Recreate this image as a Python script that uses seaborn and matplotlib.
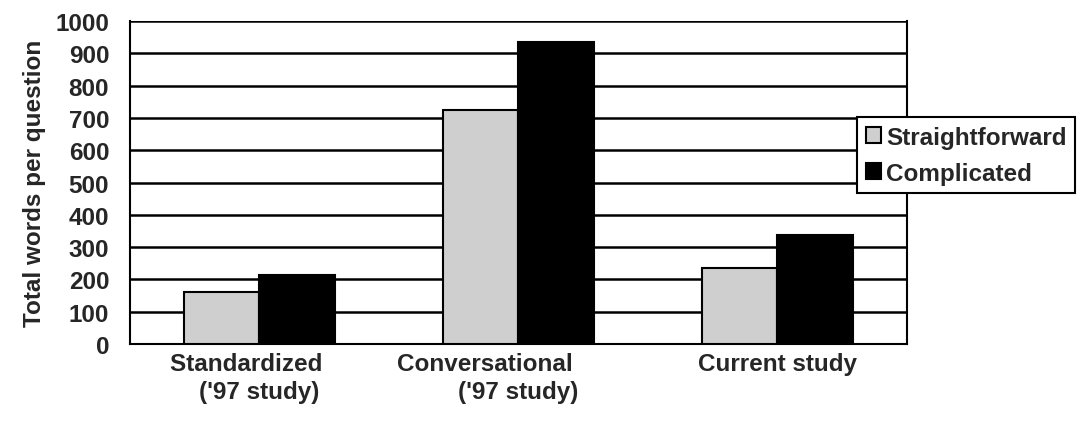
import matplotlib
matplotlib.use('Agg')
import matplotlib.pyplot as plt
import seaborn as sns
import pandas as pd

categories = ["Standardized\n('97 study)", "Conversational\n('97 study)", "Current study"]
series = ['Straightforward', 'Complicated']
straightforward = [160, 725, 235]
complicated = [215, 935, 338]
y_ticks = list(range(0, 1001, 100))

df = pd.DataFrame({
    'category': categories * 2,
    'type': [series[0]] * 3 + [series[1]] * 3,
    'words': straightforward + complicated,
})

sns.set_style('white')
plt.rcParams['font.family'] = ['Liberation Sans', 'DejaVu Sans']
plt.rcParams['font.weight'] = 'bold'
fs = 17.5

fig = plt.figure(figsize=(10.84, 4.27), dpi=100)
ax = fig.add_axes([0.1199, 0.192, 0.7168, 0.7564])

sns.barplot(data=df, x='category', y='words', hue='type', order=categories,
            hue_order=series, palette=['#cfcfcf', 'black'], width=0.58,
            edgecolor='black', linewidth=1.5, saturation=1, ax=ax, zorder=3)

ax.set_ylim(0, 1000)
ax.set_xlim(-0.5, 2.5)
ax.set_yticks(y_ticks)
ax.set_yticklabels([str(t) for t in y_ticks], fontsize=fs, fontweight='bold')
for t in y_ticks[1:]:
    ax.axhline(t, color='black', linewidth=1.8, zorder=1)

# category boundaries carry the tick marks, labels sit on minor ticks
ax.set_xticks([-0.5, 0.5, 1.5, 2.5])
ax.set_xticklabels([])
shift = [4, 10, 0]
labels = []
for c, s in zip(categories, shift):
    lines = c.split('\n')
    lines[0] = lines[0] + ' ' * s
    labels.append('\n'.join(lines))
ax.set_xticks([0, 1, 2], minor=True)
ax.set_xticklabels(labels, minor=True, fontsize=fs, fontweight='bold', linespacing=1.25)
ax.tick_params(axis='x', which='minor', length=0, pad=6)
ax.tick_params(axis='x', which='major', length=5, width=1.5, direction='out', color='black')
ax.tick_params(axis='y', length=7, width=1.5, direction='out', pad=8, color='black')

ax.set_xlabel('')
ax.set_ylabel('Total words per question', fontsize=fs, fontweight='bold', labelpad=7)

for side in ['left', 'bottom', 'right']:
    ax.spines[side].set_visible(True)
    ax.spines[side].set_color('black')
    ax.spines[side].set_linewidth(1.5)
ax.spines['top'].set_visible(False)

leg = ax.legend(loc='upper left', bbox_to_anchor=(857 / 1084, 1 - 118 / 427),
                bbox_transform=fig.transFigure, frameon=True, fancybox=False,
                edgecolor='black', framealpha=1, prop={'size': fs, 'weight': 'bold'},
                handlelength=0.65, handleheight=0.65, handletextpad=0.2,
                labelspacing=0.55, borderpad=0.35, borderaxespad=0)
leg.get_frame().set_linewidth(1.5)
leg.set_zorder(5)

fig.savefig('out.png', dpi=100)
